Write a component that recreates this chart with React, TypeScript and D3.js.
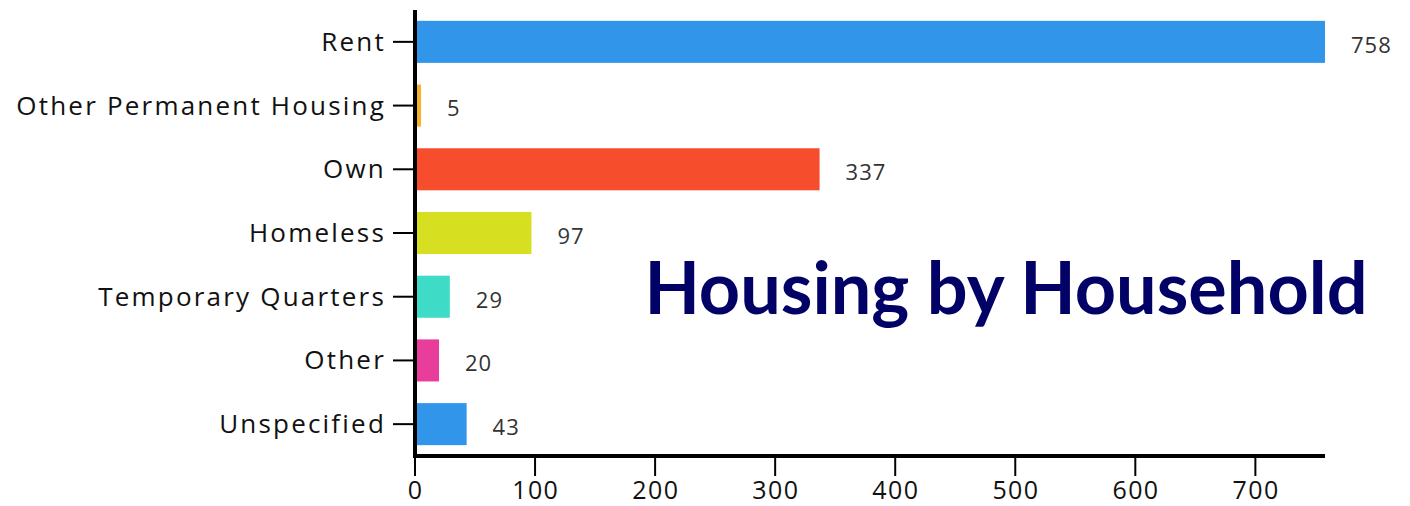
import React from "react";
import * as d3 from "d3";

const categories = ["Rent", "Other Permanent Housing", "Own", "Homeless", "Temporary Quarters", "Other", "Unspecified"];
const values = [758, 5, 337, 97, 29, 20, 43];
const colors = ["#3195EA", "#F2B52A", "#F64E2D", "#D7DF21", "#3EDCC6", "#E83D9B", "#3195EA"];
const xTicks = [0, 100, 200, 300, 400, 500, 600, 700];
const title = "Housing by Household";

const W = 1410, H = 506;
const left = 415, right = 1325, top = 10, bottom = 456;
const labelFont = "'Open Sans', 'Noto Sans', sans-serif";

export default function App() {
  const x = d3.scaleLinear().domain([0, d3.max(values) as number]).range([left, right]);
  const y = d3.scaleBand<string>().domain(categories).range([top, bottom]).paddingInner(0.34).paddingOuter(0.17);
  return (
    <svg width={W} height={H} style={{ position: "absolute", left: 0, top: 0 }}>
      {categories.map((c, i) => (
        <g key={c}>
          <rect x={x(0) + 2} y={y(c)} width={Math.max(0, x(values[i]) - x(0) - 2)} height={y.bandwidth()} fill={colors[i]} />
          <text x={x(values[i]) + 26} y={(y(c) as number) + y.bandwidth() / 2 + 5} dominantBaseline="middle"
            fontFamily={labelFont} fontSize={22} letterSpacing={1} fill="#333">{values[i]}</text>
          <line x1={x(0) - 22} x2={x(0)} y1={(y(c) as number) + y.bandwidth() / 2} y2={(y(c) as number) + y.bandwidth() / 2} stroke="#000" strokeWidth={2} />
          <text x={x(0) - 29} y={(y(c) as number) + y.bandwidth() / 2 + 2} dominantBaseline="middle" textAnchor="end"
            fontFamily={labelFont} fontSize={26} letterSpacing={2.2} fill="#111">{c}</text>
        </g>
      ))}
      <line x1={x(0)} x2={x(0)} y1={top} y2={bottom + 2} stroke="#000" strokeWidth={4} />
      <line x1={x(0) - 2} x2={right} y1={bottom} y2={bottom} stroke="#000" strokeWidth={4} />
      {xTicks.map((t) => (
        <g key={t}>
          <line x1={x(t)} x2={x(t)} y1={bottom} y2={bottom + 20} stroke="#000" strokeWidth={2} />
          <text x={x(t) + 0.7} y={bottom + 36} dominantBaseline="middle" textAnchor="middle" fontFamily={labelFont} fontSize={25} letterSpacing={1.4} fill="#111">{t}</text>
        </g>
      ))}
      <text x={1006} y={296} textAnchor="middle" dominantBaseline="middle" fontFamily="Lato, sans-serif" fontWeight={700} fontSize={72} fill="#020266">{title}</text>
    </svg>
  );
}
